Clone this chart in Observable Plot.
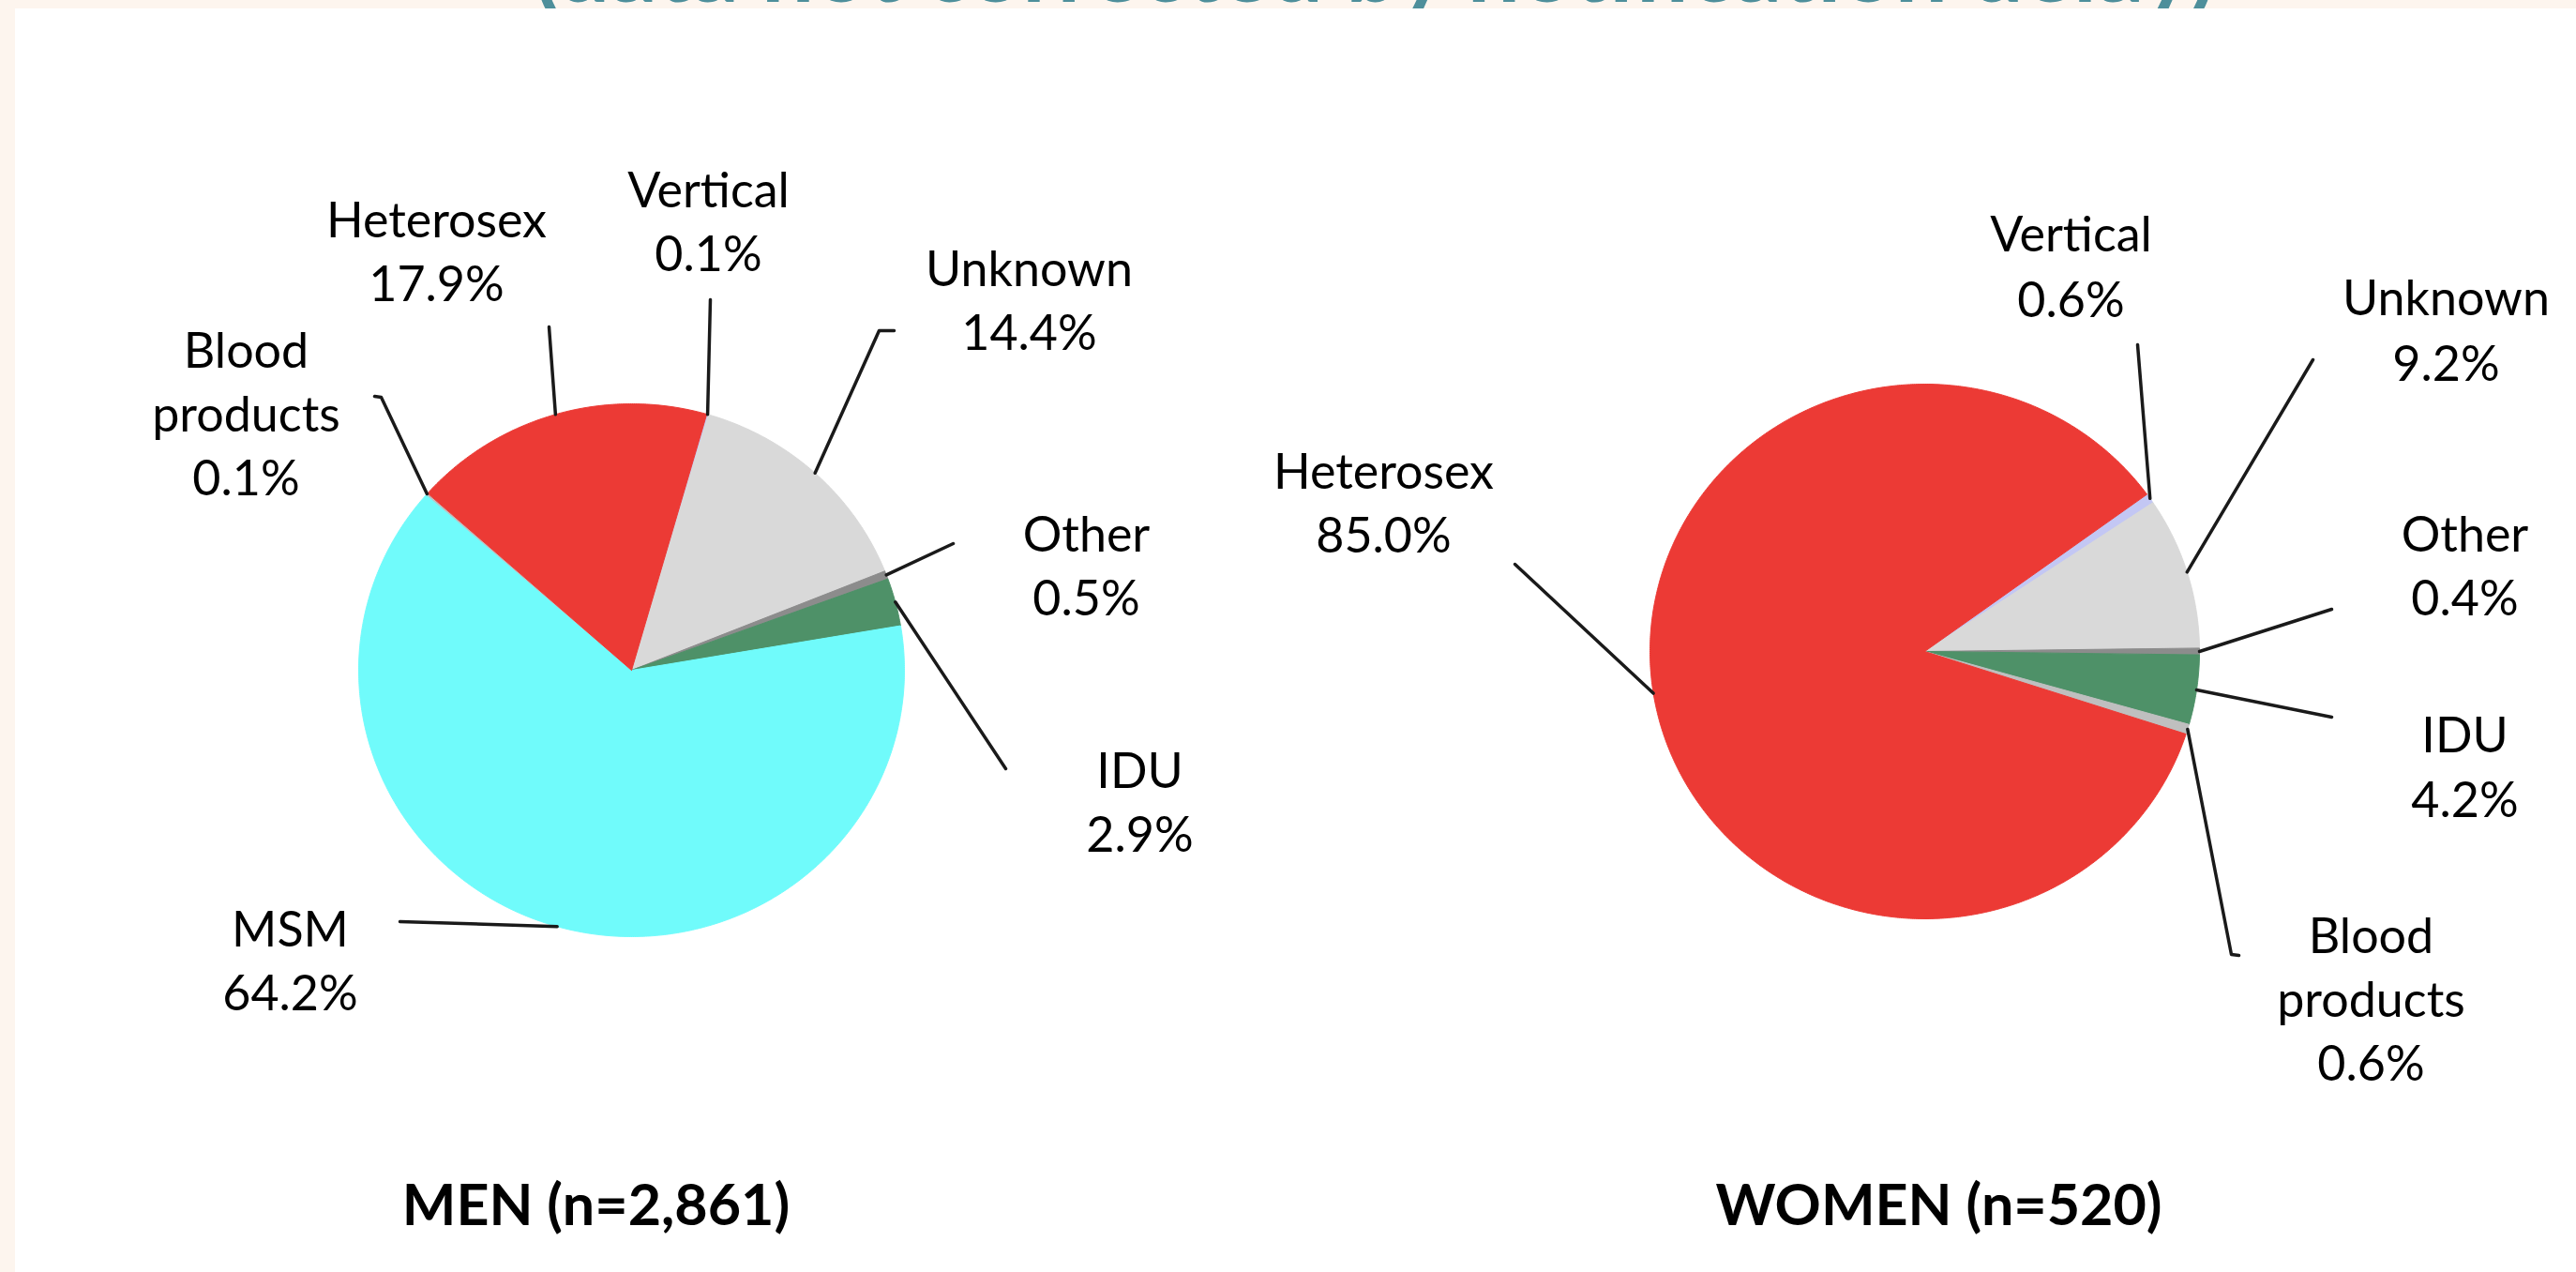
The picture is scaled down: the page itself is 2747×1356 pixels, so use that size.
<!DOCTYPE html>
<html>
<head>
<meta charset="utf-8">
<script src="https://cdn.jsdelivr.net/npm/d3@7"></script>
<script src="https://cdn.jsdelivr.net/npm/@observablehq/plot@0.6"></script>
<style>
  html, body { margin: 0; padding: 0; background: #fdf5ee; width: 2747px; height: 1356px; overflow: hidden; }
  #title { position: absolute; left: 0; top: 0; }
  #panel { position: absolute; left: 16px; top: 9px; width: 2731px; height: 1347px; background: #ffffff; }
</style>
</head>
<body>
<svg id="title" width="2747" height="9"><text x="569" y="2" textLength="1794" lengthAdjust="spacingAndGlyphs" font-family="Lato" font-weight="700" font-size="96" fill="#4e8f9b">(data not corrected by notification delay)</text></svg>
<div id="panel"></div>
<script>
// ---- data ----
const groups = ["MEN", "WOMEN"];
const groupN = [2861, 520];

const menCategories = ["Vertical", "Unknown", "Other", "IDU", "MSM", "Blood products", "Heterosex"];
const menValues     = [0.1, 14.4, 0.5, 2.9, 64.2, 0.1, 17.9];

const womenCategories = ["Vertical", "Unknown", "Other", "IDU", "Blood products", "Heterosex"];
const womenValues     = [0.6, 9.2, 0.4, 4.2, 0.6, 85.0];

// ---- styles ----
const palette = {
  "Vertical": "#c3c7f4",
  "Unknown": "#d9d9d9",
  "Other": "#8c8c8c",
  "IDU": "#4e9168",
  "MSM": "#70fbfb",
  "Blood products": "#bfbfbf",
  "Heterosex": "#ec3a35"
};

// ---- layout (page pixel coordinates) ----
const layout = {
  MEN: {
    cx: 673, cy: 714, rx: 291, ry: 284, start: 16,
    titleX: 635, titleY: 1305,
    labels: {
      "Vertical":       {x: 755,  y: 220, leader: [[757, 319]]},
      "Unknown":        {x: 1097, y: 304, leader: [[937, 352], [953, 352]]},
      "Other":          {x: 1158, y: 587, leader: [[1016, 579]]},
      "IDU":            {x: 1215, y: 839, leader: [[1072, 819]]},
      "MSM":            {x: 309,  y: 1008, leader: [[426, 982]]},
      "Blood products": {x: 262,  y: 391, leader: [[406, 423], [399, 422]]},
      "Heterosex":      {x: 465,  y: 252, leader: [[585, 348]]}
    }
  },
  WOMEN: {
    cx: 2052, cy: 694, rx: 293, ry: 285, start: 54,
    titleX: 2067, titleY: 1305,
    labels: {
      "Vertical":       {x: 2208, y: 267, gap: 70, leader: [[2279, 367]]},
      "Unknown":        {x: 2608, y: 335, gap: 70, leader: [[2466, 383]]},
      "Other":          {x: 2628, y: 587, leader: [[2486, 649]]},
      "IDU":            {x: 2628, y: 801, gap: 69, leader: [[2486, 764]]},
      "Blood products": {x: 2528, y: 1015, leader: [[2379, 1017], [2387, 1018]]},
      "Heterosex":      {x: 1475, y: 520, leader: [[1615, 601]]}
    }
  }
};
const lineGap = 68;

// ---- build geometry from the data ----
const toRad = Math.PI / 180;
const slicePts = [], leaderPts = [], labelRows = [], titleRows = [];

groups.forEach((g, gi) => {
  const L = layout[g];
  const cats = g === "MEN" ? menCategories : womenCategories;
  const vals = g === "MEN" ? menValues : womenValues;
  const a0 = L.start * toRad;
  const arcs = d3.pie().sort(null).value(d => d.v)
    .startAngle(a0).endAngle(a0 + 2 * Math.PI)(cats.map((c, i) => ({c, v: vals[i]})));
  const px = a => L.cx + L.rx * Math.sin(a);
  const py = a => L.cy - L.ry * Math.cos(a);
  arcs.forEach(arc => {
    const key = g + "|" + arc.data.c;
    const color = palette[arc.data.c];
    const span = arc.endAngle - arc.startAngle;
    const steps = Math.max(2, Math.ceil(span / (0.4 * toRad)));
    slicePts.push({key, color, x: L.cx, y: L.cy});
    for (let k = 0; k <= steps; k++) {
      const a = arc.startAngle + span * k / steps;
      slicePts.push({key, color, x: px(a), y: py(a)});
    }
    slicePts.push({key, color, x: L.cx, y: L.cy});

    const lab = L.labels[arc.data.c];
    const mid = (arc.startAngle + arc.endAngle) / 2;
    leaderPts.push({key, x: px(mid), y: py(mid)});
    lab.leader.forEach(([x, y]) => leaderPts.push({key, x, y}));
    const lines = [...arc.data.c.split(" "), `${arc.data.v.toFixed(1)}%`];
    const gap = lab.gap || lineGap;
    lines.forEach((t, li) => labelRows.push({x: lab.x, y: lab.y + li * gap, t}));
  });
  titleRows.push({x: L.titleX, y: L.titleY, t: `${g} (n=${d3.format(",")(groupN[gi])})`});
});

const chart = Plot.plot({
  width: 2731,
  height: 1347,
  margin: 0,
  x: {type: "linear", domain: [16, 2747], range: [0, 2731], axis: null},
  y: {type: "linear", domain: [9, 1356], range: [0, 1347], axis: null},
  style: {background: "transparent", fontFamily: "Lato", overflow: "visible"},
  marks: [
    Plot.line(slicePts, {x: "x", y: "y", z: "key", fill: "color", stroke: "color", strokeWidth: 1, curve: "linear"}),
    Plot.line(leaderPts, {x: "x", y: "y", z: "key", stroke: "#1a1a1a", strokeWidth: 3.5, curve: "linear"}),
    Plot.text(labelRows, {x: "x", y: "y", text: "t", textAnchor: "middle", lineAnchor: "bottom", fontSize: 52, fontFamily: "Lato", fill: "#000000"}),
    Plot.text(titleRows, {x: "x", y: "y", text: "t", textAnchor: "middle", lineAnchor: "bottom", fontSize: 61, fontWeight: 700, fontFamily: "Lato", fill: "#000000"})
  ]
});
document.getElementById("panel").appendChild(chart);
</script>
</body>
</html>
